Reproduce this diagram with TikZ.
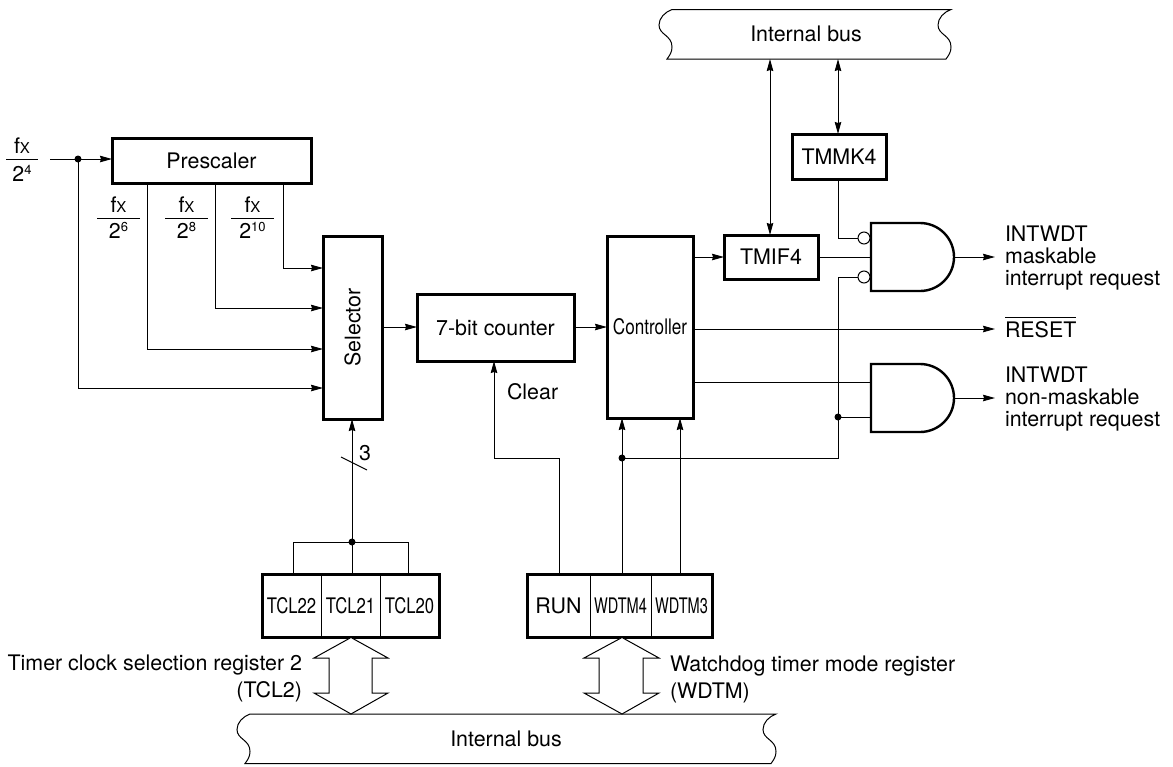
\documentclass[tikz,border=0pt]{standalone}
\usepackage{fontspec}
\setmainfont{TeX Gyre Heros}
\usetikzlibrary{arrows.meta}
\newcommand{\cond}[2]{\scalebox{#1}[1]{#2}}
\newcommand{\smX}{{\fontsize{15}{15}\selectfont\raisebox{-0.5pt}{X}}}
\newcommand{\supn}[1]{\raisebox{6.5pt}{\fontsize{13}{13}\selectfont #1}}
\tikzset{
  x=1pt,y=-1pt,
  every node/.style={font=\fontsize{21.4}{22}\selectfont,inner sep=0pt,outer sep=0pt},
  tip/.style={-{Stealth[length=12pt,width=6.5pt,inset=1pt]}},
  bitip/.style={{Stealth[length=12pt,width=6.5pt,inset=1pt]}-{Stealth[length=12pt,width=6.5pt,inset=1pt]}},
  wire/.style={line width=1pt},
  blockbox/.style={rectangle},
  heavy/.style={draw,line width=3pt},
  cell/.style={draw,line width=1pt,rectangle,minimum height=63pt},
  regframe/.style={rectangle,minimum height=63pt},
  busline/.style={draw,line width=1pt,fill=white},
  gate/.style={draw,line width=2.4pt,fill=white},
  dot/.style={circle,fill=black,minimum size=7pt},
  inv/.style={circle,draw,line width=1pt,fill=white,minimum size=12pt},
  bar/.style={line width=1pt},
  lab/.style={anchor=base west},
  fr/.style={anchor=base},
}
\begin{document}
\begin{tikzpicture}
\useasboundingbox (0,0) rectangle (1173,766);
% boxes
\node[blockbox,minimum width=199pt,minimum height=45pt] (pre) at (211.5,160.5) {Prescaler};
\node[blockbox,minimum width=59pt,minimum height=183pt] (sel) at (352.5,327.5) {\rotatebox{90}{Selector}};
\node[blockbox,minimum width=157pt,minimum height=67pt] (cnt) at (495.5,327.5) {7-bit counter};
\node[blockbox,minimum width=86pt,minimum height=182pt] (ctl) at (650,327) {\cond{0.8}{Controller}};
\node[blockbox,minimum width=94pt,minimum height=45pt] (mk) at (839,156.5) {TMMK4};
\node[blockbox,minimum width=94pt,minimum height=44pt] (if) at (771,257) {TMIF4};
\draw[heavy] (pre.north west) rectangle (pre.south east);
\draw[heavy] (sel.north west) rectangle (sel.south east);
\draw[heavy] (cnt.north west) rectangle (cnt.south east);
\draw[heavy] (ctl.north west) rectangle (ctl.south east);
\draw[heavy] (mk.north west) rectangle (mk.south east);
\draw[heavy] (if.north west) rectangle (if.south east);
% registers
\node[cell,minimum width=59pt] (t2) at (291.5,605.5) {\cond{0.78}{TCL22}};
\node[cell,minimum width=59pt] (t1) at (350.5,605.5) {\cond{0.78}{TCL21}};
\node[cell,minimum width=59pt] (t0) at (409.5,605.5) {\cond{0.78}{TCL20}};
\node[regframe,minimum width=177pt] (treg) at (350.5,605.5) {};
\draw[heavy] (treg.north west) rectangle (treg.south east);
\node[cell,minimum width=63pt] (run) at (558.5,605.5) {RUN};
\node[cell,minimum width=61pt] (w4) at (620.5,605.5) {\cond{0.68}{WDTM4}};
\node[cell,minimum width=61pt] (w3) at (681.5,605.5) {\cond{0.68}{WDTM3}};
\node[regframe,minimum width=185pt] (wreg) at (619.5,605.5) {};
\draw[heavy] (wreg.north west) rectangle (wreg.south east);
% buses
\path[busline] (672,9.5) -- (951,9.5) .. controls (944,12) and (938,18) .. (938,25) .. controls (938,35) and (951,35) .. (951,47) .. controls (951,52) and (949,55) .. (946,59) -- (667,59) .. controls (670,55) and (672,52) .. (672,47) .. controls (672,35) and (659,35) .. (659,25) .. controls (659,18) and (665,12) .. (672,9.5) -- cycle;
\node (bt) at (806,34) {Internal bus};
\path[busline] (250,714) -- (776,714) .. controls (769,716.5) and (763,722.5) .. (763,729.5) .. controls (763,739.5) and (776,739.5) .. (776,751.5) .. controls (776,756.5) and (774,759.5) .. (771,763.5) -- (245,763.5) .. controls (248,759.5) and (250,756.5) .. (250,751.5) .. controls (250,739.5) and (237,739.5) .. (237,729.5) .. controls (237,722.5) and (243,716.5) .. (250,714) -- cycle;
\node (bb) at (506,739) {Internal bus};
% gates
\path[gate] (871,223) -- (920,223) arc[start angle=-90,end angle=90,radius=34] -- (871,291) -- cycle;
\path[gate] (871,364) -- (920,364) arc[start angle=-90,end angle=90,radius=34] -- (871,432) -- cycle;
\coordinate (g1o) at (954,257);
\coordinate (g2o) at (954,398);
\coordinate (o1) at (995,257);
\coordinate (o2) at (995,398);
\coordinate (o3) at (995,329);
\node[inv] (i1) at (864,238) {};
\node[inv] (i2) at (864,277) {};
% clock wires
\coordinate (in) at (50,159);
\node[dot] (j0) at (78,159) {};
\coordinate (a1) at (283,183);
\coordinate (a2) at (215,183);
\coordinate (a3) at (147,183);
\draw[wire,tip] (in) -- (pre.west |- in);
\draw[wire,tip] (a1) |- (sel.west |- 0,268);
\draw[wire,tip] (a2) |- (sel.west |- 0,308);
\draw[wire,tip] (a3) |- (sel.west |- 0,349);
\draw[wire,tip] (j0.center) |- (sel.west |- 0,388);
% fractions
\node[fr] (f4n) at (22,153) {f\smX};
\draw[bar] (6,159) -- (38,159);
\node[fr] (f4d) at (22,181) {2\supn{4}};
\node[fr] (f6n) at (118.5,212) {f\smX};
\draw[bar] (97,218) -- (140,218);
\node[fr] (f6d) at (118.5,238) {2\supn{6}};
\node[fr] (f8n) at (186.5,212) {f\smX};
\draw[bar] (165,218) -- (208,218);
\node[fr] (f8d) at (186.5,238) {2\supn{8}};
\node[fr] (f10n) at (252.5,212) {f\smX};
\draw[bar] (231,218) -- (274,218);
\node[fr] (f10d) at (252.5,238) {2\supn{10}};
% data path
\draw[wire,tip] (sel.east |- 0,327) -- (cnt.west |- 0,327);
\draw[wire,tip] (cnt.east |- 0,327) -- (ctl.west |- 0,327);
% selector control
\node[dot] (j1) at (352,542) {};
\draw[wire,tip] (352,574) -- (sel.south -| 352,0);
\draw[wire] (293,574) |- (408,542) -- (408,574);
\coordinate (s1) at (341,457);
\coordinate (s2) at (367,470);
\draw[wire] (s1) -- (s2);
\node (n3) at (365,453) {3};
% clear and mode
\draw[wire,tip] (559,574) |- (494,458) -- (cnt.south -| 494,0);
\node[lab] (clr) at (507,399) {Clear};
\node[dot] (j2) at (622,458) {};
\draw[wire,tip] (622,574) -- (ctl.south -| 622,0);
\draw[wire,tip] (680,574) -- (ctl.south -| 680,0);
\node[dot] (j3) at (838,417) {};
\draw[wire] (j2.center) -| (j3.center);
\draw[wire] (j3.center) -- (871,417);
\draw[wire] (j3.center) |- (i2.west);
% controller outputs
\draw[wire,tip] (ctl.east |- if) -- (if.west);
\draw[wire] (if.east) -- (871,257);
\draw[wire,tip] (ctl.east |- o3) -- (o3);
\draw[wire] (ctl.east |- 0,382) -- (871,382);
\draw[wire,tip] (g1o) -- (o1);
\draw[wire,tip] (g2o) -- (o2);
\draw[wire] (mk.south -| 838,0) |- (i1.west);
\draw[wire,bitip] (if.north -| 770,0) -- (770,59);
\draw[wire,bitip] (mk.north -| 838,0) -- (838,59);
% wide arrows
\path[busline] (351,637.5) -- (388,658) -- (372,658) -- (372,693) -- (388,693) -- (351,714) -- (314,693) -- (329,693) -- (329,658) -- (314,658) -- cycle;
\path[busline] (622,637.5) -- (659,658) -- (643,658) -- (643,693) -- (659,693) -- (622,714) -- (584,693) -- (599,693) -- (599,658) -- (584,658) -- cycle;
% labels
\node[anchor=base east] (l1) at (302,670) {Timer clock selection register 2};
\node[anchor=base east] (l2) at (302,697) {(TCL2)};
\node[lab] (l3) at (670,671) {Watchdog timer mode register};
\node[lab] (l4) at (670,698) {(WDTM)};
\node[anchor=west,align=left] (o1t) at (1005,258) {INTWDT\\maskable\\interrupt request};
\node[lab] (o3t) at (1005,337) {$\overline{\hbox{\rule{0pt}{18.5pt}RESET}}$};
\node[anchor=west,align=left] (o2t) at (1005,399) {INTWDT\\non-maskable\\interrupt request};
\end{tikzpicture}
\end{document}
